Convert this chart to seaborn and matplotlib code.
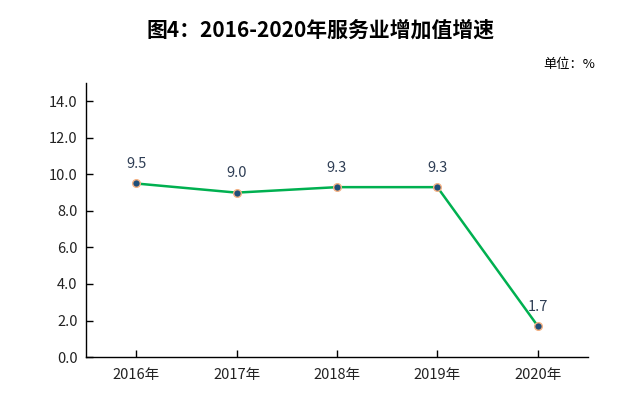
import seaborn as sns
import pandas as pd
import matplotlib.pyplot as plt

years = ['2016年', '2017年', '2018年', '2019年', '2020年']
growth = [9.5, 9.0, 9.3, 9.3, 1.7]
yticks = [0.0, 2.0, 4.0, 6.0, 8.0, 10.0, 12.0, 14.0]

df = pd.DataFrame({'year': years, 'growth': growth})

sns.set_style('white')
plt.rcParams['font.family'] = ['Noto Sans CJK SC', 'DejaVu Sans']

fig = plt.figure(figsize=(6.37, 4.03), dpi=100)
ax = fig.add_axes([0.135, 0.114, 0.788, 0.68])

sns.lineplot(data=df, x='year', y='growth', ax=ax, color='#00B050',
             linewidth=1.8, marker='o', markersize=5.5,
             markerfacecolor='#1F4E79', markeredgecolor='#F4B183',
             markeredgewidth=1)

for i, v in enumerate(growth):
    ax.annotate(f'{v:.1f}', (i, v), xytext=(0, 9), textcoords='offset points',
                ha='center', va='bottom', fontsize=10.5, color='#2F3E55')

ax.set_xlim(-0.5, 4.5)
ax.set_ylim(0, 15)
ax.set_yticks(yticks)
ax.set_yticklabels([f'{t:.1f}' for t in yticks])
ax.set_xlabel('')
ax.set_ylabel('')
ax.tick_params(axis='both', direction='in', length=5, width=1, colors='black',
               labelsize=10.5, labelcolor='#222222')
ax.tick_params(axis='x', pad=8)
ax.tick_params(axis='y', pad=6)
ax.tick_params(left=True, bottom=True)
sns.despine(ax=ax)
for s in ['left', 'bottom']:
    ax.spines[s].set_color('black')
    ax.spines[s].set_linewidth(1)

fig.text(0.503, 0.925, '图4：2016-2020年服务业增加值增速', ha='center', va='center',
         fontsize=15, fontweight='bold', color='black')
fig.text(0.935, 0.84, '单位：%', ha='right', va='center', fontsize=9.5,
         color='black')

fig.savefig('out.png', dpi=100)
